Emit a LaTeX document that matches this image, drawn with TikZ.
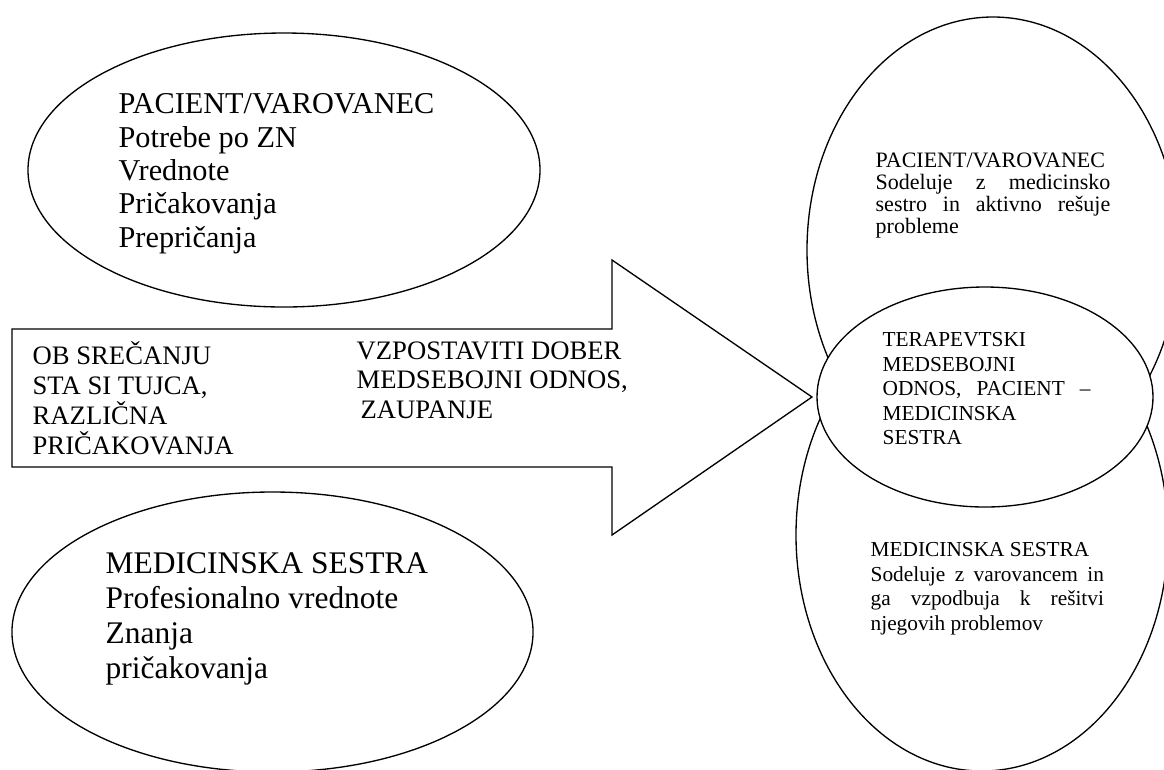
\documentclass[tikz,border=0pt]{standalone}
\usepackage{fontspec}
\setmainfont{Liberation Serif}

\tikzset{every picture/.style={line width=1pt}}
\tikzset{txt/.style={anchor=north west,inner sep=0pt,align=left}}

\begin{document}
\begin{tikzpicture}[x=0.75pt,y=0.75pt,yscale=-1,xscale=1]
\useasboundingbox (0,0) rectangle (1164,769);
\clip (0,0) rectangle (1164,769);

%Shape: Arrow [id:arrow]
\draw (12,329) -- (612,329) -- (612,260) -- (812,397) -- (612,535) -- (612,467) -- (12,467) -- cycle ;
%Shape: Ellipse [id:tl]
\draw (284,170) ellipse (192pt and 102.75pt);
%Shape: Ellipse [id:bl]
\draw (272.5,632) ellipse (195.4pt and 105pt);
%Shape: Ellipse [id:ur]
\draw (993,250) ellipse (139.5pt and 174.75pt);
%Shape: Ellipse [id:lr]
\draw (982,535) ellipse (139.5pt and 177pt);
%Shape: Ellipse [id:mid]
\draw [fill=white] (985,397) ellipse (126pt and 82.5pt);

% Text Node
\node [txt,font=\fontsize{22.7pt}{25pt}\selectfont] (pacient) at (118,93)
  {PACIENT/VAROVANEC\\Potrebe po ZN\\Vrednote\\Pričakovanja\\Prepričanja};
% Text Node
\node [txt,font=\fontsize{23.6pt}{26.25pt}\selectfont] (sestra) at (105,552)
  {MEDICINSKA SESTRA\\Profesionalno vrednote\\Znanja\\pričakovanja};
% Text Node
\node [txt,font=\fontsize{20pt}{22.5pt}\selectfont] (srecanje) at (32,341)
  {OB SREČANJU\\STA SI TUJCA,\\RAZLIČNA\\PRIČAKOVANJA};
% Text Node
\node [txt,font=\fontsize{20pt}{22pt}\selectfont] (odnos) at (356,341)
  {VZPOSTAVITI DOBER\\MEDSEBOJNI ODNOS,\\\hspace*{3pt}ZAUPANJE};
% Text Node
\node [txt,font=\fontsize{16.5pt}{16.5pt}\selectfont] (sodeluje) at (875,152)
  {PACIENT/VAROVANEC\\\makebox[176pt][s]{Sodeluje z medicinsko}\\\makebox[176pt][s]{sestro in aktivno rešuje}\\probleme};
% Text Node
\node [txt,font=\fontsize{16pt}{18.4pt}\selectfont] (terapevtski) at (882,332)
  {TERAPEVTSKI\\MEDSEBOJNI\\\makebox[156pt][s]{ODNOS, PACIENT –}\\MEDICINSKA\\SESTRA};
% Text Node
\node [txt,font=\fontsize{16pt}{18.4pt}\selectfont] (vzpodbuja) at (870,542)
  {MEDICINSKA SESTRA\\\makebox[175pt][s]{Sodeluje z varovancem in}\\\makebox[175pt][s]{ga vzpodbuja k rešitvi}\\njegovih problemov};

\end{tikzpicture}
\end{document}
